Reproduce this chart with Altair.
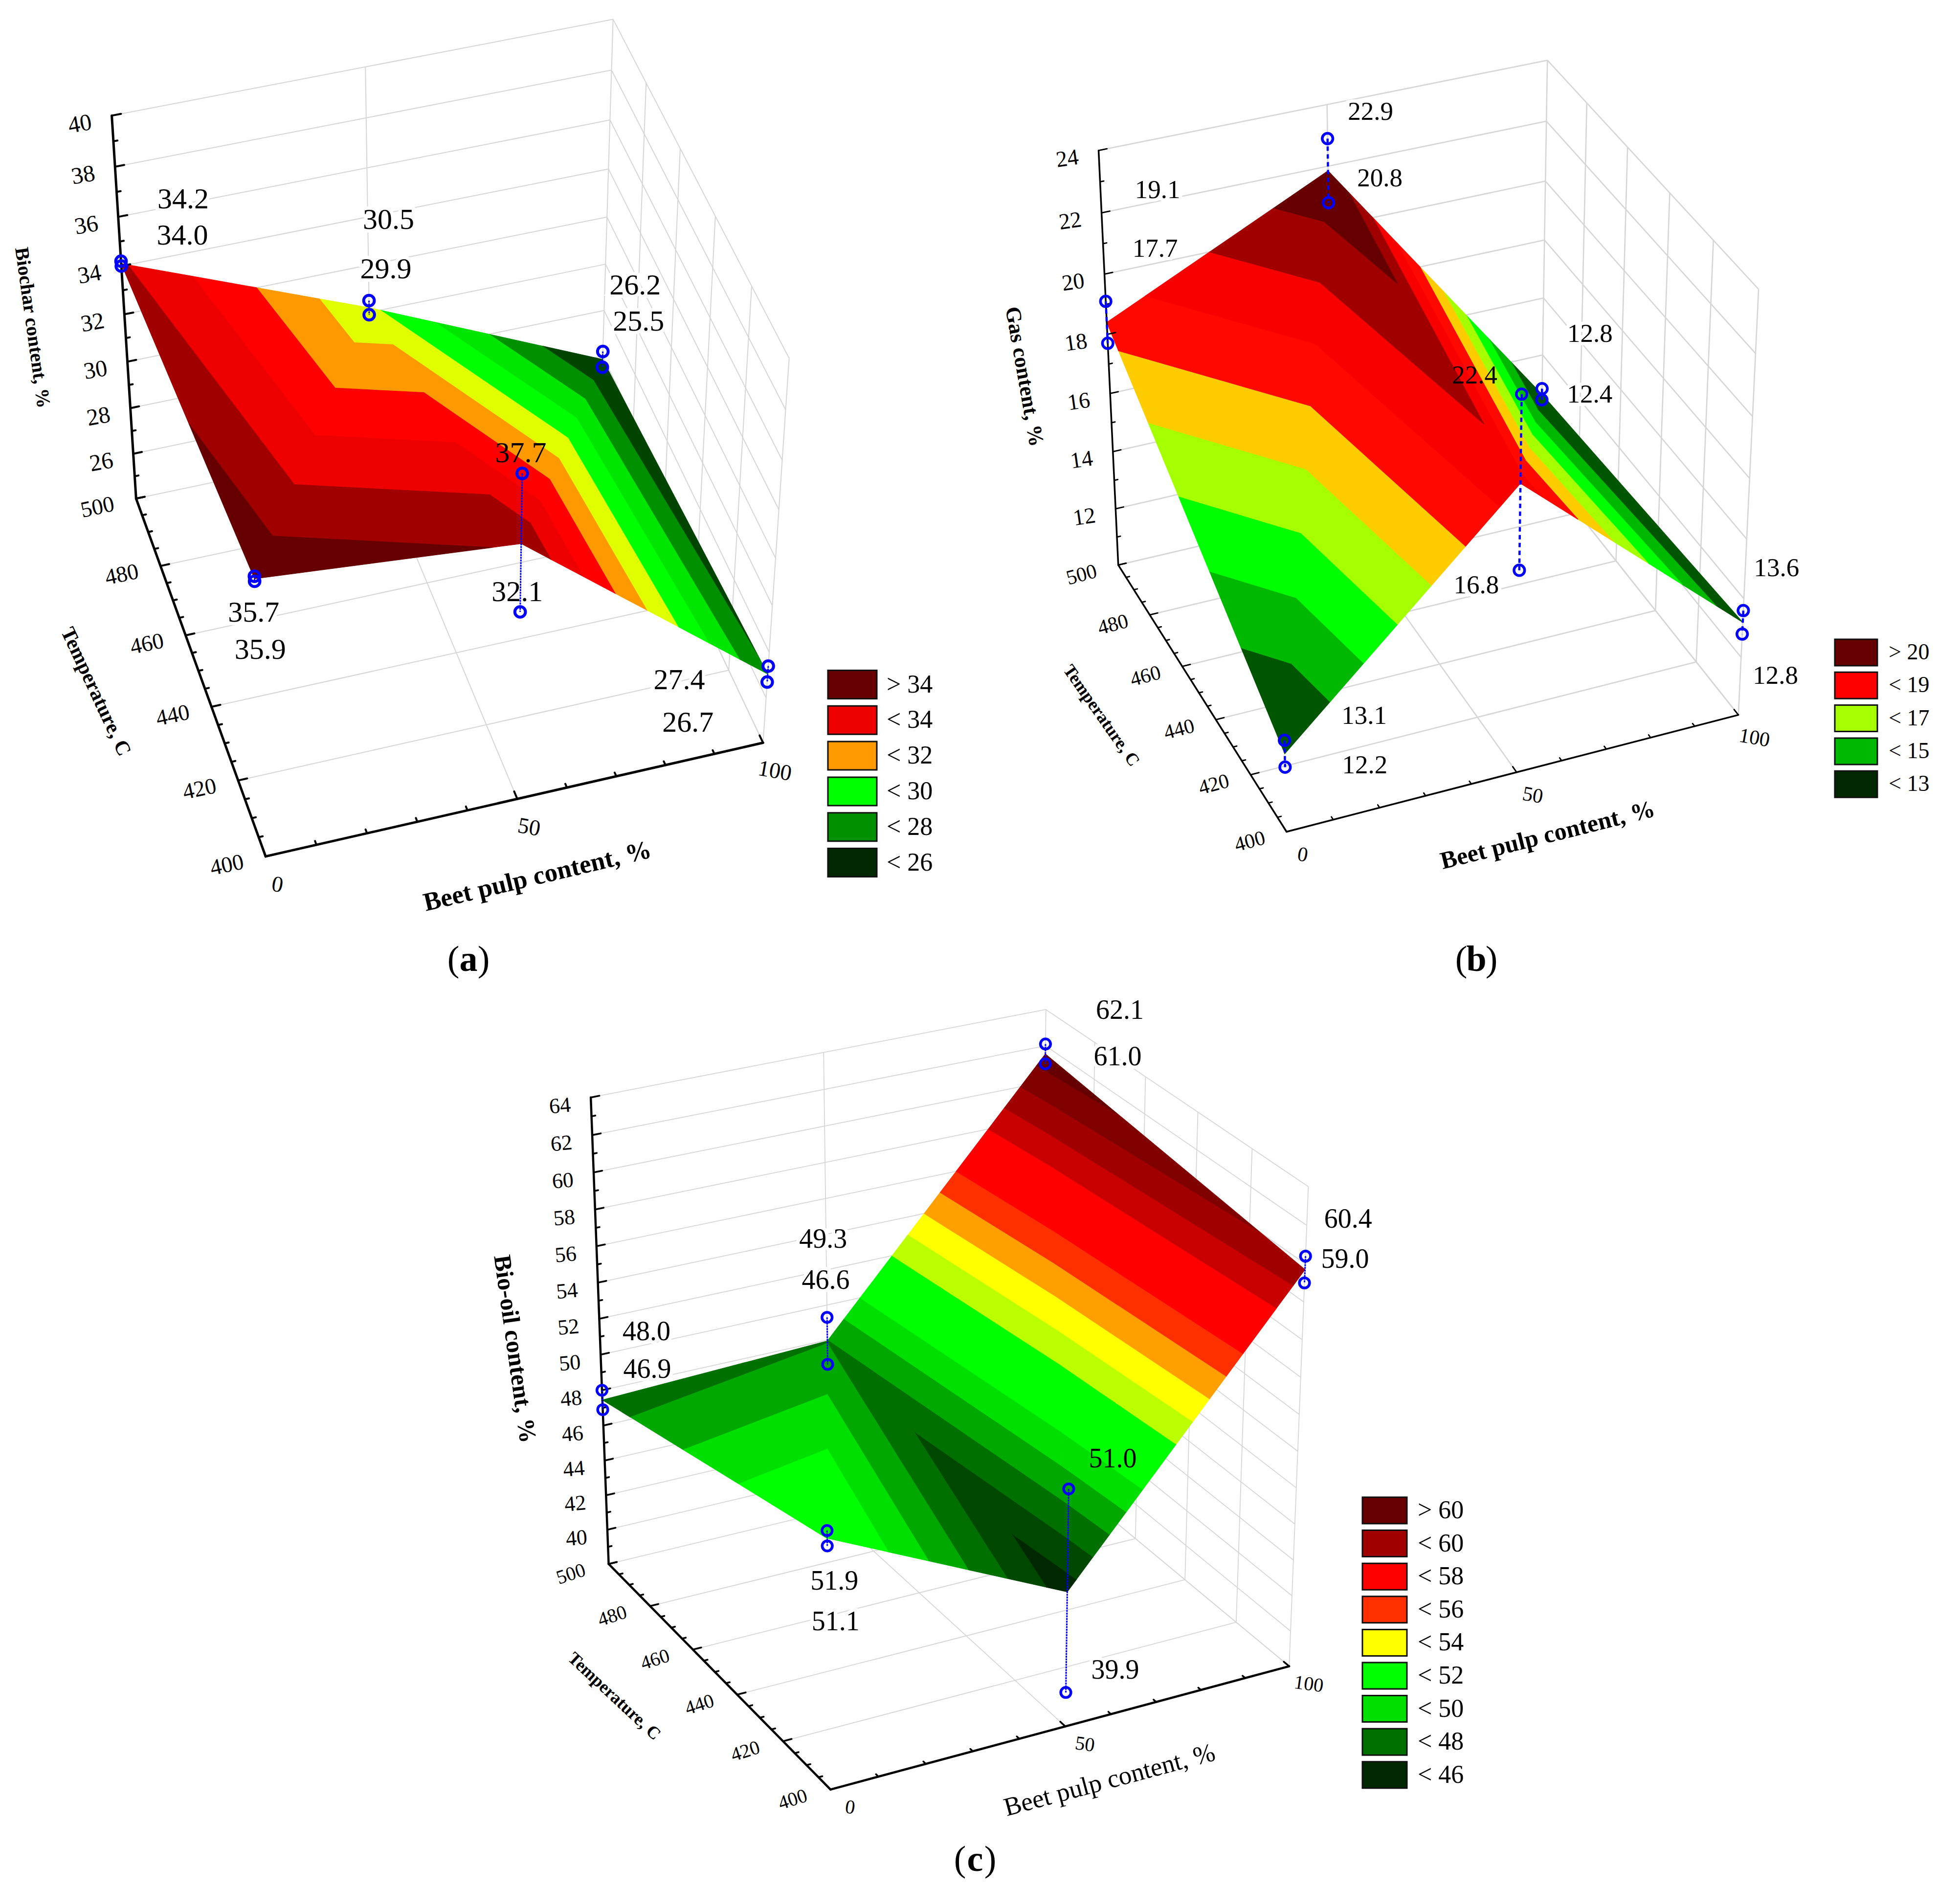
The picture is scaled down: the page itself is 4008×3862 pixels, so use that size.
import math
import numpy as np
import pandas as pd
import altair as alt

# ---------- chart values ----------
BEET_TICKS = [0, 50, 100]
TEMP_TICKS = [400, 420, 440, 460, 480, 500]
NODES = [(0, 500), (50, 500), (100, 500), (0, 400), (50, 400), (100, 400)]
# triangulation of the surface, far triangles first (node indices)
TRIANGLES = [(0, 1, 3), (1, 2, 4), (3, 1, 4), (4, 2, 5)]

A_UPPER = [34.2, 30.5, 26.2, 35.9, 37.7, 27.4]
A_LOWER = [34.0, 29.9, 25.5, 35.7, 32.1, 26.7]
A_LEVELS = [27, 28, 29, 30, 31, 32, 33, 34, 35]
A_FILLS = ["#004400", "#009000", "#00E600", "#00FF00", "#E0FF00", "#FF9900", "#FF0000", "#EE0000", "#A00000", "#660000"]
A_LEGEND = ["> 34", "< 34", "< 32", "< 30", "< 28", "< 26"]
A_LEGEND_FILLS = ["#660000", "#EE0000", "#FF9900", "#00FF00", "#009000", "#002800"]

B_UPPER = [19.1, 22.9, 12.8, 13.1, 22.4, 13.6]
B_LOWER = [17.7, 20.8, 12.4, 12.2, 16.8, 12.8]
B_LEVELS = [14, 15, 16, 17, 18, 19, 20, 21]
B_FILLS = ["#005500", "#00B800", "#00FF00", "#A6FF00", "#FFCC00", "#FF0800", "#F80000", "#A00000", "#660000"]
B_LEGEND = ["> 20", "< 19", "< 17", "< 15", "< 13"]
B_LEGEND_FILLS = ["#660000", "#FF0000", "#A6FF00", "#00B800", "#002800"]

C_UPPER = [48.0, 49.3, 62.1, 51.9, 51.0, 60.4]
C_LOWER = [46.9, 46.6, 61.0, 51.1, 39.9, 59.0]
C_LEVELS = [46, 47, 48, 49, 50, 52, 53, 54, 55, 56, 58, 59, 60, 61]
C_FILLS = ["#002800", "#004800", "#007000", "#00A800", "#00E000", "#00FF00", "#BBFF00", "#FFFF00", "#FFA000",
           "#FF3000", "#FF0000", "#C80000", "#A00000", "#800000", "#660000"]
C_LEGEND = ["> 60", "< 60", "< 58", "< 56", "< 54", "< 52", "< 50", "< 48", "< 46"]
C_LEGEND_FILLS = ["#660000", "#A00000", "#FF0000", "#FF3000", "#FFFF00", "#00FF00", "#00E000", "#007000", "#002800"]

# ---------- camera calibration: (beet, temperature, value) -> picture position ----------
A_CAMERA = [
    (0, 500, 40, 228, 237), (0, 500, 38, 234, 343), (0, 500, 36, 242, 443), (0, 500, 34, 251, 542),
    (0, 500, 32, 256, 641), (0, 500, 30, 258, 740), (0, 500, 28, 265, 834), (0, 500, 26, 271, 925),
    (0, 500, 24, 277, 1019), (0, 400, 24, 541, 1754), (0, 480, 24, 328, 1158), (0, 460, 24, 383, 1300),
    (0, 440, 24, 434, 1444), (0, 420, 24, 488, 1594), (100, 400, 24, 1558, 1519), (50, 400, 24, 1054, 1630),
    (100, 500, 40, 1253, 40), (100, 500, 36, 1246, 246), (100, 500, 32, 1241, 442), (100, 500, 28, 1235, 635),
    (100, 400, 40, 1614, 728), (50, 500, 40, 746, 137), (50, 500, 30.5, 754, 615), (50, 500, 29.9, 757, 644),
    (100, 500, 26.2, 1235, 719), (100, 500, 25.5, 1233, 753), (0, 400, 35.8, 522, 1186), (50, 400, 37.7, 1068, 969),
    (50, 400, 32.1, 1065, 1251), (100, 400, 27.4, 1572, 1363), (100, 400, 26.7, 1570, 1395),
]
B_CAMERA = [
    (0, 500, 24, 2246, 308), (0, 500, 22, 2253, 434), (0, 500, 20, 2258, 558), (0, 500, 18, 2265, 683),
    (0, 500, 16, 2271, 804), (0, 500, 14, 2275, 923), (0, 500, 12, 2282, 1040), (0, 500, 10, 2282, 1156),
    (0, 400, 10, 2628, 1703), (0, 480, 10, 2357, 1258), (0, 460, 10, 2418, 1362), (0, 440, 10, 2486, 1471),
    (0, 420, 10, 2558, 1584), (100, 400, 10, 3554, 1460), (50, 400, 10, 3100, 1577), (100, 500, 24, 3163, 121),
    (100, 500, 20, 3159, 370), (100, 500, 16, 3156, 608), (100, 400, 24, 3596, 590), (50, 500, 24, 2713, 214),
    (50, 500, 22.9, 2716, 287), (50, 500, 20.8, 2716, 416), (100, 500, 12.8, 3154, 797), (100, 500, 12.4, 3154, 817),
    (50, 400, 22.4, 3113, 809), (50, 400, 16.8, 3108, 1164), (0, 400, 13.1, 2627, 1512), (0, 400, 12.2, 2627, 1569),
    (100, 400, 13.6, 3566, 1252), (100, 400, 12.8, 3563, 1295),
]
C_CAMERA = [
    (0, 500, 64, 1207, 2244), (0, 500, 60, 1215, 2396), (0, 500, 56, 1221, 2546), (0, 500, 52, 1227, 2693),
    (0, 500, 48, 1231, 2843), (0, 500, 44, 1234, 2983), (0, 500, 40, 1240, 3127), (0, 500, 38, 1240, 3201),
    (0, 400, 38, 1695, 3662), (0, 480, 38, 1333, 3282), (0, 460, 38, 1419, 3372), (0, 440, 38, 1511, 3463),
    (0, 420, 38, 1607, 3558), (100, 400, 38, 2638, 3406), (50, 400, 38, 2174, 3527), (100, 500, 64, 2137, 2063),
    (100, 400, 64, 2674, 2423), (50, 500, 64, 1683, 2154), (50, 500, 49.3, 1691, 2696), (50, 500, 46.6, 1691, 2790),
    (100, 500, 62.1, 2140, 2136), (100, 500, 61.0, 2140, 2176), (0, 400, 51.9, 1691, 3133), (0, 400, 51.1, 1691, 3162),
    (50, 400, 51.0, 2185, 3043), (50, 400, 39.9, 2179, 3463), (100, 400, 60.4, 2669, 2567), (100, 400, 59.0, 2669, 2623),
]

# ---------- layout of the annotations (pixel offsets from the marker each label belongs to) ----------
A_UPPER_OFF = [(127, -126), (40, -165), (66, -135), (12, 151), (-3, -41), (-182, 29)]
A_LOWER_OFF = [(125, -62), (34, -92), (74, -93), (-2, 65), (-6, -40), (-162, 84)]
B_UPPER_OFF = [(106, -227), (88, -54), (98, -112), (163, -50), (-96, -38), (68, -86)]
B_LOWER_OFF = [(97, -193), (105, -49), (98, -10), (163, -3), (-88, 31), (68, 86)]
C_UPPER_OFF = [(91, -119), (-8, -159), (152, -68), (15, 104), (90, -61), (87, -75)]
C_LOWER_OFF = [(91, -82), (-4, -171), (148, -14), (17, 155), (101, -45), (83, -48)]

PANELS = [
    dict(camera=A_CAMERA, zmin=24, zmax=40, zlab=26, upper=A_UPPER, lower=A_LOWER, up_off=A_UPPER_OFF, lo_off=A_LOWER_OFF,
         levels=A_LEVELS, fills=A_FILLS, legend=A_LEGEND, legend_fills=A_LEGEND_FILLS, over=[(4, 0), (4, 1)],
         val_size=60, tick_size=48, t_size=46, axis_w=5.0, grid_w=2.0, dash=[4, 1.5], dash_w=3, mk=(470, 6),
         z_off=(-65, 18), z_angle=-10, t_off=(-79, 18), t_angle=-12, b_off=(24, 58), b_angle=10,
         titles=[("Biochar content, %", 66, 670, 82, 40, "bold"), ("Temperature, C", 196, 1414, 65, 42, "bold"),
                 ("Beet pulp content, %", 1099, 1792, -13.4, 53, "bold")],
         leg=(1693, 1793, 1370.5, 58, 72.8, 1813, 52),
         caption=("a", 958, 1963)),
    dict(camera=B_CAMERA, zmin=10, zmax=24, zlab=12, upper=B_UPPER, lower=B_LOWER, up_off=B_UPPER_OFF, lo_off=B_LOWER_OFF,
         levels=B_LEVELS, fills=B_FILLS, legend=B_LEGEND, legend_fills=B_LEGEND_FILLS, over=[(4, 0)],
         val_size=53, tick_size=46, t_size=42, axis_w=3.5, grid_w=2.6, dash=[9, 7], dash_w=4.5, mk=(470, 5.5),
         z_off=(-64, 17), z_angle=-8, t_off=(-75, 20), t_angle=-15, b_off=(33, 47), b_angle=10,
         titles=[("Gas content, %", 2094, 770, 80, 44, "bold"), ("Temperature, C", 2252, 1463, 55, 36, "bold"),
                 ("Beet pulp content, %", 3165, 1708, -14, 50, "bold")],
         leg=(3752, 3839, 1307, 54, 67.3, 3862, 46),
         caption=("b", 3019, 1963)),
    dict(camera=C_CAMERA, zmin=38, zmax=64, zlab=40, upper=C_UPPER, lower=C_LOWER, up_off=C_UPPER_OFF, lo_off=C_LOWER_OFF,
         levels=C_LEVELS, fills=C_FILLS, legend=C_LEGEND, legend_fills=C_LEGEND_FILLS, over=[(4, 0)],
         val_size=56, tick_size=44, t_size=40, axis_w=4.5, grid_w=1.8, dash=[4, 1.5], dash_w=3, mk=(430, 5.5),
         z_off=(-63, 18), z_angle=-5, t_off=(-77, 21), t_angle=-18, b_off=(40, 37), b_angle=8,
         titles=[("Bio-oil content, %", 1052, 2758, 82, 50, "bold"), ("Temperature, C", 1256, 3468, 43, 36, "bold"),
                 ("Beet pulp content, %", 2269, 3640, -15, 53, "normal")],
         leg=(2786, 2877, 3061, 54, 67.6, 2899, 52),
         caption=("c", 1994, 3803)),
]
FONT = "Liberation Serif"
GRID = "#D6D6D6"
BLUE = "#0000FF"


def fit_camera(cal, zmin, zmax):
    rows, rhs = [], []
    for b, t, z, px, py in cal:
        u, v, w = b / 100, (t - 400) / 100, (z - zmin) / (zmax - zmin)
        rows.append([u, v, w, 1, 0, 0, 0, 0, -u * px, -v * px, -w * px]); rhs.append(px)
        rows.append([0, 0, 0, 0, u, v, w, 1, -u * py, -v * py, -w * py]); rhs.append(py)
    m = np.linalg.lstsq(np.array(rows, float), np.array(rhs, float), rcond=None)[0]

    def project(b, t, z):
        u, v, w = b / 100, (t - 400) / 100, (z - zmin) / (zmax - zmin)
        d = m[8] * u + m[9] * v + m[10] * w + 1
        return ((m[0] * u + m[1] * v + m[2] * w + m[3]) / d, (m[4] * u + m[5] * v + m[6] * w + m[7]) / d)
    return project


def clip(poly, lim, above):
    out = []
    for i, p in enumerate(poly):
        q = poly[(i + 1) % len(poly)]
        pin = p[2] >= lim if above else p[2] <= lim
        qin = q[2] >= lim if above else q[2] <= lim
        if pin:
            out.append(p)
        if pin != qin:
            s = (lim - p[2]) / (q[2] - p[2])
            out.append(tuple(p[k] + s * (q[k] - p[k]) for k in range(3)))
    return out


def chain_rows(pts, pid, fill):
    xs = sorted({round(p[0], 3) for p in pts})
    rows = []
    n = len(pts)
    for x in xs:
        ys = []
        for i in range(n):
            (x1, y1), (x2, y2) = pts[i], pts[(i + 1) % n]
            if min(x1, x2) - 1e-3 <= x <= max(x1, x2) + 1e-3:
                if abs(x2 - x1) < 1e-6:
                    ys += [y1, y2]
                else:
                    ys.append(y1 + (x - x1) / (x2 - x1) * (y2 - y1))
        if ys:
            rows.append(dict(x=x, y=min(ys), y2=max(ys), pid=pid, fill=fill))
    return rows


X_SCALE = alt.Scale(domain=[8, 3998], nice=False, zero=False)
Y_SCALE = alt.Scale(domain=[3848, 8], nice=False, zero=False)
ex = alt.X("x:Q", scale=X_SCALE, axis=None)
ey = alt.Y("y:Q", scale=Y_SCALE, axis=None)

grid_rows, axis_rows, halo_rows, norm_rows, bold_rows = [], [], [], [], []
surface_layers, dash_layers, marker_layers, rect_rows = [], [], [], []


def seg(rows, a, b, color, w):
    rows.append(dict(x=a[0], y=a[1], x2=b[0], y2=b[1], color=color, w=w))


for pi, P in enumerate(PANELS):
    zmin, zmax = P["zmin"], P["zmax"]
    pr = fit_camera(P["camera"], zmin, zmax)
    zs = list(range(zmin, zmax + 1, 2))

    # walls and floor
    for z in zs:
        seg(grid_rows, pr(0, 500, z), pr(100, 500, z), GRID, P["grid_w"])
        seg(grid_rows, pr(100, 500, z), pr(100, 400, z), GRID, P["grid_w"])
    for b in (50, 100):
        seg(grid_rows, pr(b, 500, zmin), pr(b, 500, zmax), GRID, P["grid_w"])
        seg(grid_rows, pr(b, 400, zmin), pr(b, 500, zmin), GRID, P["grid_w"])
    for t in TEMP_TICKS[:-1]:
        seg(grid_rows, pr(100, t, zmin), pr(100, t, zmax), GRID, P["grid_w"])
        if t > 400:
            seg(grid_rows, pr(0, t, zmin), pr(100, t, zmin), GRID, P["grid_w"])

    # surface through the mean of each pair of measurements
    means = [(u + l) / 2 for u, l in zip(P["upper"], P["lower"])]
    edges = [-1e9] + P["levels"] + [1e9]
    for ti, tri in enumerate(TRIANGLES):
        verts = [(NODES[i][0], NODES[i][1], means[i]) for i in tri]
        rows = []
        for k, fill in enumerate(P["fills"]):
            poly = clip(clip(verts, edges[k], True), edges[k + 1], False)
            if len(poly) >= 3:
                rows += chain_rows([pr(*p) for p in poly], f"{pi}-{ti}-{k}", fill)
        surface_layers.append(
            alt.Chart(pd.DataFrame(rows)).mark_area(strokeWidth=1.2, opacity=1).encode(
                x=ex, y=ey, y2=alt.Y2("y2:Q"), detail="pid:N",
                color=alt.Color("fill:N", scale=None), stroke=alt.Stroke("fill:N", scale=None))
        )

    # axes
    aw = P["axis_w"]
    seg(axis_rows, pr(0, 500, zmin), pr(0, 500, zmax), "#000000", aw)
    seg(axis_rows, pr(0, 400, zmin), pr(0, 500, zmin), "#000000", aw)
    seg(axis_rows, pr(0, 400, zmin), pr(100, 400, zmin), "#000000", aw)
    for z in range(zmin, zmax + 1):
        seg(axis_rows, pr(0, 500, z), pr(1.8 if (z - zmin) % 2 == 0 else 0.8, 500, z), "#000000", aw * 0.8)
    for t in range(400, 501, 5):
        seg(axis_rows, pr(0, t, zmin), pr(1.8 if t % 20 == 0 else 0.8, t, zmin), "#000000", aw * 0.8)
    for b in range(0, 101, 10):
        seg(axis_rows, pr(b, 400, zmin), pr(b, 402.0 if b % 50 == 0 else 401.0, zmin), "#000000", aw * 0.8)

    # tick labels
    for z in range(P["zlab"], zmax + 1, 2):
        x, y = pr(0, 500, z)
        norm_rows.append(dict(x=x + P["z_off"][0], y=y + P["z_off"][1], text=str(z), angle=P["z_angle"] % 360, size=P["tick_size"]))
    for t in TEMP_TICKS:
        x, y = pr(0, t, zmin)
        norm_rows.append(dict(x=x + P["t_off"][0], y=y + P["t_off"][1], text=str(t), angle=P["t_angle"] % 360, size=P["t_size"]))
    for b in BEET_TICKS:
        x, y = pr(b, 400, zmin)
        norm_rows.append(dict(x=x + P["b_off"][0], y=y + P["b_off"][1], text=str(b), angle=P["b_angle"] % 360, size=P["t_size"]))

    # axis titles
    for text, cx, cy, ang, size, weight in P["titles"]:
        (bold_rows if weight == "bold" else norm_rows).append(dict(x=cx, y=cy, text=text, angle=ang % 360, size=size))

    # markers, drop lines, value labels
    drops, pts = [], []
    for i, (b, t) in enumerate(NODES):
        hi = pr(b, t, P["upper"][i])
        lo = pr(b, t, P["lower"][i])
        drops.append(dict(x=hi[0], y=hi[1], x2=lo[0], y2=lo[1]))
        for j, (pos, val, off) in enumerate(((hi, P["upper"][i], P["up_off"][i]), (lo, P["lower"][i], P["lo_off"][i]))):
            pts.append(dict(x=pos[0], y=pos[1]))
            row = dict(x=pos[0] + off[0], y=pos[1] + off[1], text=f"{val:.1f}", angle=0, size=P["val_size"])
            norm_rows.append(row)
            if (i, j) not in P["over"]:
                halo_rows.append(row)
    dash_layers.append(
        alt.Chart(pd.DataFrame(drops)).mark_rule(color=BLUE, strokeWidth=P["dash_w"], strokeDash=P["dash"]).encode(
            x=ex, y=ey, x2=alt.X2("x2:Q"), y2=alt.Y2("y2:Q"))
    )
    marker_layers.append(
        alt.Chart(pd.DataFrame(pts)).mark_point(
            shape="circle", filled=False, color=BLUE, strokeWidth=P["mk"][1], size=P["mk"][0], opacity=1).encode(x=ex, y=ey)
    )

    # legend
    x0, x1, top, h, step, tx, ts = P["leg"]
    for k, (lab, fill) in enumerate(zip(P["legend"], P["legend_fills"])):
        rect_rows.append(dict(x=x0, x2=x1, y=top + k * step, y2=top + k * step + h, fill=fill))
        norm_rows.append(dict(x=tx, y=top + k * step + h / 2, text=lab, angle=0, size=ts, left=True))

    # caption
    letter, cx, cy = P["caption"]
    bold_rows.append(dict(x=cx, y=cy, text=letter, angle=0, size=74))
    norm_rows.append(dict(x=cx - 31, y=cy, text="(", angle=0, size=74))
    norm_rows.append(dict(x=cx + 31, y=cy, text=")", angle=0, size=74))

norm_df = pd.DataFrame(norm_rows)
norm_df["left"] = norm_df["left"].fillna(False).astype(bool)
legend_df = norm_df[norm_df["left"]].drop(columns=["left"])
plain_df = norm_df[~norm_df["left"]].drop(columns=["left"])


def text_layer(df, weight="normal", align="center", **kw):
    return alt.Chart(df).mark_text(font=FONT, fontWeight=weight, align=align, baseline="middle", color="#000000", **kw).encode(
        x=ex, y=ey, text="text:N", angle=alt.Angle("angle:Q", scale=None), size=alt.Size("size:Q", scale=None))


def rule_layer(rows, **kw):
    return alt.Chart(pd.DataFrame(rows)).mark_rule(**kw).encode(
        x=ex, y=ey, x2=alt.X2("x2:Q"), y2=alt.Y2("y2:Q"),
        color=alt.Color("color:N", scale=None), size=alt.Size("w:Q", scale=None))


halo = alt.Chart(pd.DataFrame(halo_rows)).mark_text(
    font=FONT, align="center", baseline="middle", color="white", stroke="white", strokeWidth=14).encode(
    x=ex, y=ey, text="text:N", size=alt.Size("size:Q", scale=None))

rects = alt.Chart(pd.DataFrame(rect_rows)).mark_rect(stroke="#111111", strokeWidth=3).encode(
    x=ex, y=ey, x2=alt.X2("x2:Q"), y2=alt.Y2("y2:Q"), color=alt.Color("fill:N", scale=None))

chart = alt.layer(
    rule_layer(grid_rows),
    halo,
    *surface_layers,
    rule_layer(axis_rows, strokeCap="round"),
    *dash_layers,
    *marker_layers,
    rects,
    text_layer(plain_df),
    text_layer(legend_df, align="left"),
    text_layer(pd.DataFrame(bold_rows), weight="bold"),
).properties(width=3990, height=3840, padding=0, autosize="none").configure_view(strokeWidth=0)

chart.save("out.html", embed_options={"renderer": "svg", "actions": False})
